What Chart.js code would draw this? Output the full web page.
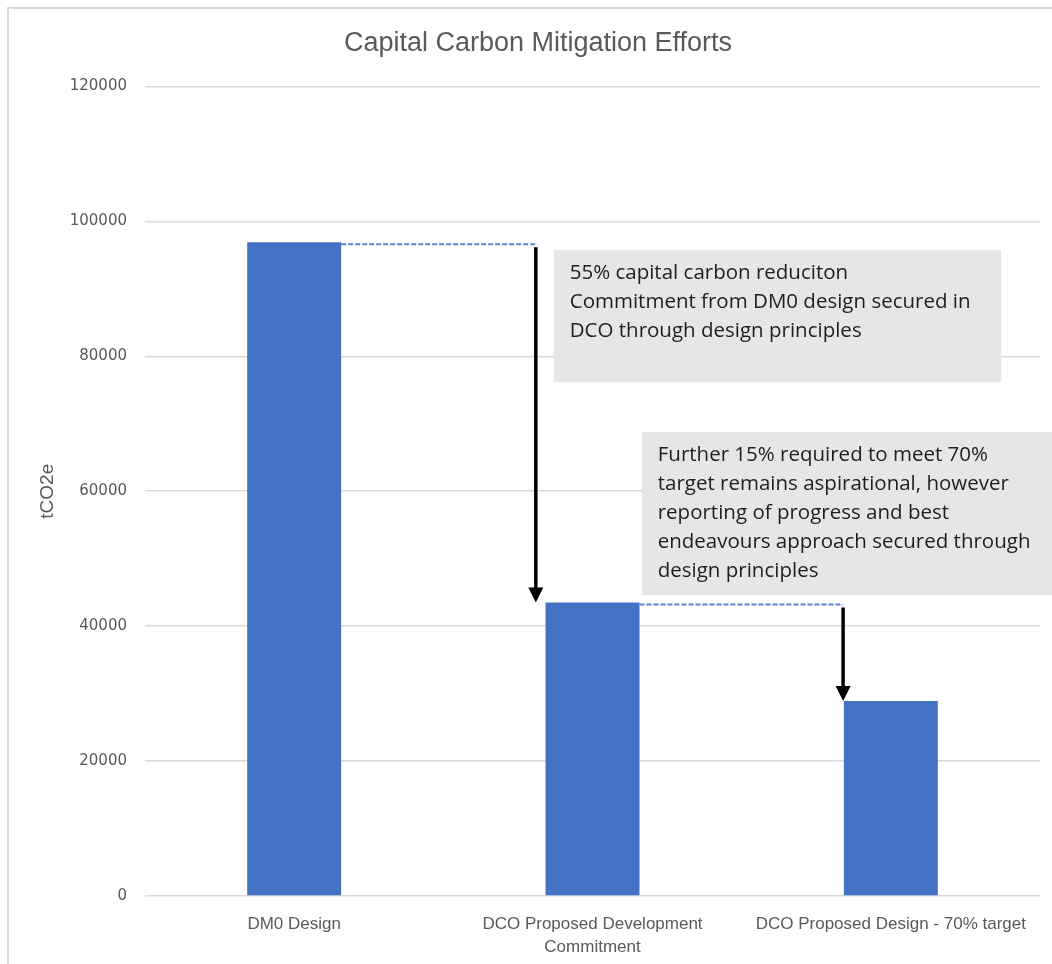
<!DOCTYPE html>
<html>
<head>
<meta charset="utf-8">
<script src="https://cdn.jsdelivr.net/npm/chart.js@4.4.1/dist/chart.umd.min.js"></script>
<style>
  html, body { margin: 0; padding: 0; background: #fff; }
  #wrap { width: 1052px; height: 964px; }
</style>
</head>
<body>
<div id="wrap"><canvas id="carbonChart" width="1052" height="964"></canvas></div>
<script>
// Chart data
const categories = ['DM0 Design', ['DCO Proposed Development', 'Commitment'], 'DCO Proposed Design - 70% target'];
const emissions = [96900, 43500, 28900];
const yTicks = [0, 20000, 40000, 60000, 80000, 100000, 120000];

const noteTexts = [
    ['55% capital carbon reduciton', 'Commitment from DM0 design secured in', 'DCO through design principles'],
    ['Further 15% required to meet 70%', 'target remains aspirational, however', 'reporting of progress and best', 'endeavours approach secured through', 'design principles']
];

const textFont = '"Liberation Sans", Arial, sans-serif';
const narrowFont = '"Liberation Sans Narrow", ' + textFont;

// --- annotation plugin: frame, dashed connectors, arrows, note boxes ---
const annotations = {
    id: 'annotations',
    beforeDraw(chart) {
        const ctx = chart.ctx;
        ctx.save();
        ctx.strokeStyle = '#d9d9d9';
        ctx.lineWidth = 2;
        ctx.beginPath();
        ctx.moveTo(8, chart.height + 5);
        ctx.lineTo(8, 8);
        ctx.lineTo(chart.width + 5, 8);
        ctx.stroke();
        ctx.restore();
    },
    afterDatasetsDraw(chart) {
        const ctx = chart.ctx;
        const xs = chart.scales.x;
        const ys = chart.scales.y;
        const bars = chart.getDatasetMeta(0).data;
        const arrowIdx = [0.81, 1.84];

        ctx.save();
        // dashed connectors from each bar top to the drop arrow
        ctx.strokeStyle = '#5b86d6';
        ctx.lineWidth = 2;
        ctx.setLineDash([5, 2]);
        for (let i = 0; i < 2; i++) {
            const b = bars[i];
            const y = ys.getPixelForValue(emissions[i]) + 2;
            ctx.beginPath();
            ctx.moveTo(b.x + b.width / 2, y);
            ctx.lineTo(xs.getPixelForValue(arrowIdx[i]), y);
            ctx.stroke();
        }
        ctx.setLineDash([]);

        // drop arrows
        ctx.strokeStyle = '#000';
        ctx.fillStyle = '#000';
        ctx.lineWidth = 3.5;
        for (let i = 0; i < 2; i++) {
            const x = xs.getPixelForValue(arrowIdx[i]);
            const y0 = ys.getPixelForValue(emissions[i]) + 5;
            const y1 = ys.getPixelForValue(emissions[i + 1]);
            ctx.beginPath();
            ctx.moveTo(x, y0);
            ctx.lineTo(x, y1 - 12);
            ctx.stroke();
            ctx.beginPath();
            ctx.moveTo(x - 7.5, y1 - 15);
            ctx.lineTo(x + 7.5, y1 - 15);
            ctx.lineTo(x, y1);
            ctx.closePath();
            ctx.fill();
        }

        // note boxes
        const boxes = [
            { x0: 0.87, x1: 2.37, y0: 95800, y1: 76200 },
            { x0: 1.165, x1: 2.7, y0: 68800, y1: 44600 }
        ];
        boxes.forEach((bx, i) => {
            const left = xs.getPixelForValue(bx.x0);
            const right = xs.getPixelForValue(bx.x1);
            const top = ys.getPixelForValue(bx.y0);
            const bottom = ys.getPixelForValue(bx.y1);
            ctx.fillStyle = '#e7e6e6';
            ctx.fillRect(left, top, right - left, bottom - top);
            ctx.fillStyle = '#1e1e1e';
            ctx.font = '20.5px "Open Sans", ' + textFont;
            ctx.textBaseline = 'middle';
            ctx.textAlign = 'left';
            noteTexts[i].forEach((line, j) => {
                ctx.fillText(line, left + 16, top + 23 + j * 29);
            });
        });
        ctx.restore();
    }
};

const ctx = document.getElementById('carbonChart').getContext('2d');
new Chart(ctx, {
    type: 'bar',
    data: {
        labels: categories,
        datasets: [{
            data: emissions,
            backgroundColor: '#4472c4',
            borderWidth: 0,
            barPercentage: 0.315,
            categoryPercentage: 1
        }]
    },
    options: {
        responsive: false,
        animation: false,
        layout: { padding: { left: 36, right: 12, top: 0, bottom: 4 } },
        plugins: {
            legend: { display: false },
            tooltip: { enabled: false },
            title: {
                display: true,
                text: 'Capital Carbon Mitigation Efforts',
                color: '#595959',
                font: { family: textFont, size: 27, weight: 'normal' },
                padding: { top: 27, bottom: 27 }
            }
        },
        scales: {
            x: {
                grid: { display: false },
                border: { display: false },
                ticks: {
                    color: '#595959',
                    font: { family: narrowFont, size: 17, lineHeight: 1.36 },
                    maxRotation: 0,
                    autoSkip: false,
                    padding: 9
                },
                afterFit(scale) { scale.height = 64; }
            },
            y: {
                min: 0,
                max: 120000,
                afterBuildTicks(scale) { scale.ticks = yTicks.map(v => ({ value: v })); },
                grid: { color: '#d9d9d9', lineWidth: 1.5, drawTicks: false },
                border: { display: false },
                ticks: {
                    color: '#595959',
                    font: { family: '"DejaVu Sans", sans-serif', size: 15 },
                    padding: 18,
                    callback: v => String(v)
                },
                title: {
                    display: true,
                    text: 'tCO2e',
                    color: '#595959',
                    font: { family: narrowFont, size: 19 },
                    padding: 0
                },
                afterFit(scale) { scale.width = 109; }
            }
        }
    },
    plugins: [annotations]
});
</script>
</body>
</html>
